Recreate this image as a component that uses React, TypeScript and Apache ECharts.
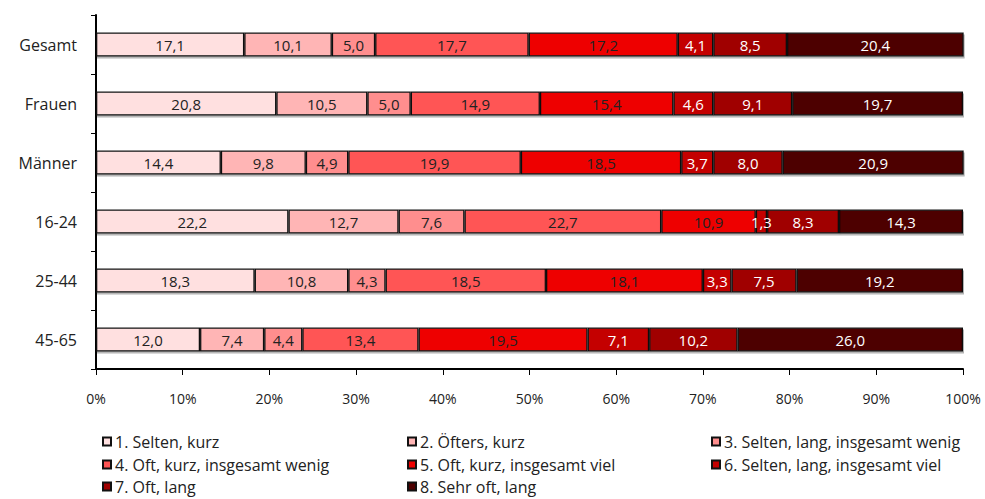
import React, { useEffect, useRef } from "react";
import * as echarts from "echarts";

const categories = ["Gesamt", "Frauen", "Männer", "16-24", "25-44", "45-65"];
const seriesNames = [
  "1. Selten, kurz",
  "2. Öfters, kurz",
  "3. Selten, lang, insgesamt wenig",
  "4. Oft, kurz, insgesamt wenig",
  "5. Oft, kurz, insgesamt viel",
  "6. Selten, lang, insgesamt viel",
  "7. Oft, lang",
  "8. Sehr oft, lang",
];
const s1 = [17.1, 20.8, 14.4, 22.2, 18.3, 12.0];
const s2 = [10.1, 10.5, 9.8, 12.7, 10.8, 7.4];
const s3 = [5.0, 5.0, 4.9, 7.6, 4.3, 4.4];
const s4 = [17.7, 14.9, 19.9, 22.7, 18.5, 13.4];
const s5 = [17.2, 15.4, 18.5, 10.9, 18.1, 19.5];
const s6 = [4.1, 4.6, 3.7, 1.3, 3.3, 7.1];
const s7 = [8.5, 9.1, 8.0, 8.3, 7.5, 10.2];
const s8 = [20.4, 19.7, 20.9, 14.3, 19.2, 26.0];
const seriesValues = [s1, s2, s3, s4, s5, s6, s7, s8];
const colors = ["#FFE0E0", "#FFB5B5", "#FF8E8E", "#FF5555", "#EE0000", "#C40000", "#A00000", "#4E0000"];
const labelColors = ["#222", "#222", "#222", "#222", "#222", "#fff", "#fff", "#fff"];
const xTicks = [0, 10, 20, 30, 40, 50, 60, 70, 80, 90, 100];

const FONT = "'Open Sans', 'DejaVu Sans', sans-serif";

export default function App() {
  const ref = useRef<HTMLDivElement>(null);
  useEffect(() => {
    if (!ref.current) return;
    const chart = echarts.init(ref.current, null, { renderer: "svg" });
    const series = seriesNames.map((name, i) => ({
      name,
      type: "bar",
      stack: "total",
      barWidth: 24,
      data: seriesValues[i],
      itemStyle: {
        color: colors[i],
        borderColor: "#111",
        borderWidth: 1.3,
        shadowColor: "rgba(0,0,0,0.3)",
        shadowOffsetY: 2,
        shadowOffsetX: 1,
        shadowBlur: 0,
      },
      label: {
        show: true,
        position: "inside",
        color: labelColors[i],
        fontFamily: FONT,
        fontSize: 15,
        formatter: (p: any) => Number(p.value).toFixed(1).replace(".", ","),
      },
    }));
    const colLeft = [97, 402, 706];
    const rowTop = [428, 451, 473];
    const legends = seriesNames.map((name, k) => ({
      left: colLeft[k % 3],
      top: rowTop[Math.floor(k / 3)],
      itemWidth: 8,
      itemHeight: 8,
      itemGap: 0,
      icon: "rect",
      textStyle: { fontFamily: FONT, fontSize: 16, color: "#222", lineHeight: 17, padding: [0, 0, 0, -1] },
      data: [name],
    }));
    chart.setOption({
      animation: false,
      grid: { left: 96, right: 22, top: 15, bottom: 130, containLabel: false },
      legend: legends,
      xAxis: {
        type: "value",
        min: xTicks[0],
        max: xTicks[xTicks.length - 1],
        interval: 10,
        axisLine: { show: true, lineStyle: { color: "#000", width: 2 } },
        axisTick: { show: true, length: 6, lineStyle: { color: "#000", width: 1 } },
        splitLine: { show: false },
        axisLabel: {
          margin: 22,
          fontFamily: FONT,
          fontSize: 14,
          color: "#222",
          formatter: (v: number) => v + "%",
        },
      },
      yAxis: {
        type: "category",
        inverse: true,
        data: categories,
        axisLine: { show: true, lineStyle: { color: "#000", width: 2 } },
        axisTick: { show: true, length: 5, inside: false, lineStyle: { color: "#000", width: 1 } },
        axisLabel: { margin: 19, fontFamily: FONT, fontSize: 16, color: "#222" },
      },
      series,
    });
    return () => chart.dispose();
  }, []);
  return (
    <div
      ref={ref}
      style={{ position: "absolute", left: 0, top: 0, width: 985, height: 499 }}
    />
  );
}
